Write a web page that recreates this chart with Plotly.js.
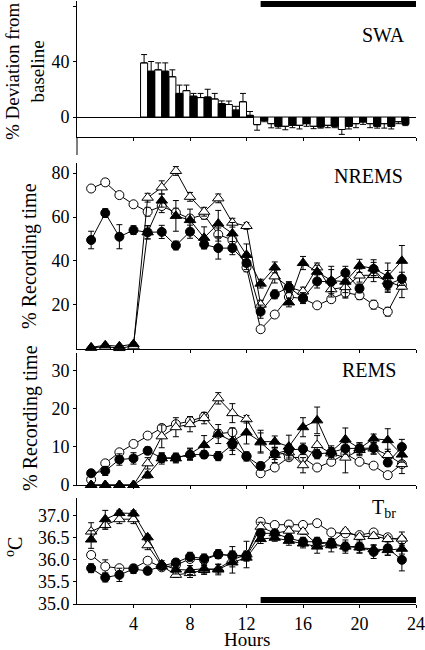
<!DOCTYPE html>
<html><head><meta charset="utf-8">
<script src="https://cdn.plot.ly/plotly-3.0.1.min.js"></script>
<style>html,body{margin:0;padding:0;background:#fff}#g{width:425px;height:650px}</style>
</head><body><div id="g"></div>
<script>
// ---------- data ----------
const hours = [1,2,3,4,5,6,7,8,9,10,11,12,13,14,15,16,17,18,19,20,21,22,23];
const swaHours = [5,6,7,8,9,10,11,12,13,14,15,16,17,18,19,20,21,22,23];
const swaWhite    = [39,34,29,19,14,13,9,11,-5.5,-4.8,-6.7,-6,-6.7,-6,-9,-4.8,-4.8,-4.8,-3.4];
const swaWhiteErr = [6,5,5,4,3,4,2.5,6,4,3,2.5,2.6,1.7,1.7,3.5,2.9,2.9,3.2,1.4];
const swaBlack    = [33,33,17,15,14.4,9.6,5,1.2,-2.4,-6.7,-6,-4.8,-7.2,-6.7,-6.7,-3.6,-6.7,-6.7,-5.3];
const swaBlackErr = [7,6,6,2,5.6,2,2.7,2.8,1,1.3,1.7,1.9,0.8,1,1.9,1.7,1.3,1.9,0.9];

const nremsOpenCirc = [73,75.8,70,65.8,62.4,65,62,59.3,61,52,49.5,37,8.8,15.5,23.5,22.8,19.7,22.5,25.5,24.3,20,16.8,29];
const nremsOpenCircErr = [1,1.5,1,1,2,3,2,1.5,2,3,3,2,1,1,1.5,1.5,1,1,2,2,2,2,2];
const nremsFillCirc = [49.5,61.8,51,54,53,53.2,47,53.3,47.5,45.8,45.8,39,16.8,24.7,28,23,30.6,30.5,34.5,27.4,36.3,29.2,31.8];
const nremsFillCircErr = [4,2,5.5,2,3,3,2,3,2,5,3,3,3,2,2.5,2.5,3,7,3,2,3,3,3];
const nremsFillTri = [0.5,1.5,1,2,53,67.5,60.5,58.6,50.5,57,52.5,42.7,29.6,37,21,39,35,31,30.5,37.7,36.5,33,40];
const nremsFillTriErr = [0.5,0.5,0.5,0.5,3,3,7,5,5,6,5,5,2,2.5,2,3,3,5,5,3,4,6,7];
const nremsOpenTri = [0.3,0.8,0.2,1,68.8,73.5,81,69.2,62.4,68.5,57.4,55.9,20,32.9,28,26,37,27,28,33.3,33.5,30.6,28.2];
const nremsOpenTriErr = [0.3,0.3,0.3,0.3,2,3,2,2,2,2,2,1.5,2,3,2,2,2,2,5,3,3,5,5];

const remsOpenCirc = [1.4,5.7,8.6,10.8,13,15,16,16.8,18,13.5,13.9,7.6,3.1,4.6,7.3,7.2,4.6,6.1,8.2,6.1,5.1,2.6,5.5];
const remsOpenCircErr = [0.5,0.6,0.6,0.5,0.5,0.8,0.8,0.8,0.8,1,1,1,0.5,0.5,0.6,0.6,0.5,0.5,0.8,0.6,0.5,0.5,0.8];
const remsFillCirc = [3.1,3.7,6.7,7,9,7.1,7.2,8,8,7.6,10.6,7.5,5,8.2,9.2,9.5,8.1,8.6,9.6,9.6,9.7,5.9,10];
const remsFillCircErr = [0.8,1.2,1.5,1.5,1,1.2,1.2,1.5,1,1.2,1.5,1.2,1,1.5,1.5,1.5,1.2,1.2,1.5,1.5,1.5,1,2];
const remsFillTri = [0,0,0,0,2.6,7,7,8.2,10.5,13.4,11.5,13.8,11.4,11.4,10.1,15.2,17,8.8,12,9.6,12.2,11.8,8];
const remsFillTriErr = [0.2,0.2,0.2,0.2,0.8,1.5,1.2,1.5,2.5,2.5,3.5,3,3,1.5,3,2.5,3.5,1.5,3,1.5,1.2,3,2];
const remsOpenTri = [0,0,0,0,5.7,12.8,15.2,16,17.6,22.8,18.9,17.3,11.2,7.9,8.6,5.2,10.5,8.3,7.2,9.2,9.6,7.9,5.5];
const remsOpenTriErr = [0.2,0.2,0.2,0.2,1.5,3,2.5,2,1.5,1.5,2.5,1,2.5,2,2,2,2.5,1.5,4,1.5,1.5,1.5,2.5];

const tbrOpenCirc = [36.11,35.85,35.81,35.81,35.98,35.83,35.88,36.02,36.0,36.12,36.1,36.1,36.86,36.79,36.8,36.79,36.83,36.62,36.6,36.56,36.62,36.51,36.45];
const tbrOpenCircErr = [0.08,0.15,0.05,0.06,0.07,0.05,0.05,0.06,0.06,0.08,0.1,0.1,0.05,0.05,0.08,0.06,0.05,0.05,0.05,0.05,0.05,0.05,0.08];
const tbrFillCirc = [35.81,35.6,35.66,35.79,35.75,35.86,35.94,36.07,36.03,36.13,36.09,36.09,36.6,36.6,36.49,36.41,36.41,36.37,36.3,36.3,36.18,36.26,36.0];
const tbrFillCircErr = [0.1,0.1,0.15,0.1,0.08,0.06,0.08,0.1,0.1,0.1,0.1,0.1,0.1,0.08,0.1,0.1,0.1,0.1,0.15,0.15,0.15,0.15,0.25];
const tbrFillTri = [36.46,36.92,37.06,37.05,36.51,35.9,35.78,35.77,35.8,35.78,35.94,36.05,36.47,36.5,36.43,36.37,36.3,36.33,36.3,36.28,36.24,36.22,36.25];
const tbrFillTriErr = [0.2,0.2,0.06,0.06,0.05,0.08,0.1,0.1,0.1,0.12,0.1,0.08,0.1,0.08,0.1,0.1,0.15,0.15,0.1,0.12,0.1,0.12,0.12];
const tbrOpenTri = [36.64,36.79,36.92,36.92,36.33,35.86,35.66,35.7,35.77,35.8,36.0,36.12,36.75,36.6,36.66,36.64,36.35,36.4,36.65,36.52,36.54,36.47,36.48];
const tbrOpenTriErr = [0.2,0.1,0.1,0.1,0.1,0.06,0.06,0.1,0.1,0.1,0.3,0.3,0.1,0.06,0.1,0.06,0.06,0.08,0.05,0.06,0.06,0.06,0.15];

const darkPeriod = [13, 24];
const xTicks = [4,8,12,16,20,24];

// ---------- build ----------
const FONT = 'Liberation Serif, Times New Roman, serif';
const BLK = '#000';

function errCfg(arr){ return {type:'data', array:arr, visible:true, color:BLK, thickness:1, width:3}; }
function series(y, err, sym, fill, xa, ya){
  return {
    x: hours, y: y, xaxis: xa, yaxis: ya, type:'scatter', mode:'lines+markers',
    line:{color:BLK, width:1}, cliponaxis:false,
    marker:{symbol:sym, size: sym==='circle'?9:10, color: fill?BLK:'#fff', line:{color:BLK, width:1}},
    error_y: errCfg(err), showlegend:false, hoverinfo:'skip'
  };
}
function barErr(vals, errs){
  return {type:'data', symmetric:false, visible:true, color:BLK, thickness:1, width:3,
    array: vals.map((v,i)=> v>=0 ? errs[i] : 0),
    arrayminus: vals.map((v,i)=> v<0 ? errs[i] : 0)};
}

const traces = [
  {type:'bar', x:swaHours, y:swaWhite, xaxis:'x', yaxis:'y', marker:{color:'#fff', line:{color:BLK, width:1}},
   error_y: barErr(swaWhite, swaWhiteErr), showlegend:false, hoverinfo:'skip'},
  {type:'bar', x:swaHours, y:swaBlack, xaxis:'x', yaxis:'y', marker:{color:BLK, line:{color:BLK, width:1}},
   error_y: barErr(swaBlack, swaBlackErr), showlegend:false, hoverinfo:'skip'},

  series(nremsOpenCirc, nremsOpenCircErr, 'circle', false, 'x2','y2'),
  series(nremsOpenTri, nremsOpenTriErr, 'triangle-up', false, 'x2','y2'),
  series(nremsFillTri, nremsFillTriErr, 'triangle-up', true, 'x2','y2'),
  series(nremsFillCirc, nremsFillCircErr, 'circle', true, 'x2','y2'),

  series(remsOpenCirc, remsOpenCircErr, 'circle', false, 'x3','y3'),
  series(remsOpenTri, remsOpenTriErr, 'triangle-up', false, 'x3','y3'),
  series(remsFillTri, remsFillTriErr, 'triangle-up', true, 'x3','y3'),
  series(remsFillCirc, remsFillCircErr, 'circle', true, 'x3','y3'),

  series(tbrOpenCirc, tbrOpenCircErr, 'circle', false, 'x4','y4'),
  series(tbrOpenTri, tbrOpenTriErr, 'triangle-up', false, 'x4','y4'),
  series(tbrFillTri, tbrFillTriErr, 'triangle-up', true, 'x4','y4'),
  series(tbrFillCirc, tbrFillCircErr, 'circle', true, 'x4','y4'),

  // dark-period bars
  {type:'scatter', mode:'lines', x:darkPeriod, y:[81.4,81.4], xaxis:'x', yaxis:'y', cliponaxis:false,
   line:{color:BLK, width:6}, showlegend:false, hoverinfo:'skip'},
  {type:'scatter', mode:'lines', x:darkPeriod, y:[35.09,35.09], xaxis:'x4', yaxis:'y4', cliponaxis:false,
   line:{color:BLK, width:6}, showlegend:false, hoverinfo:'skip'}
];

function xax(anchor, labels){
  return {domain:[0,1], range:[0,24], anchor:anchor, tickvals:xTicks, showticklabels:labels,
    ticks:'outside', ticklen:3, tickcolor:BLK, showline:true, linecolor:BLK, linewidth:1,
    showgrid:false, zeroline:false, tickfont:{family:FONT, size:18, color:BLK}};
}
function yax(dom, rng, tv, extra){
  return Object.assign({domain:dom, range:rng, tickvals:tv, ticks:'outside', ticklen:3, tickcolor:BLK,
    showline:true, linecolor:BLK, linewidth:1, showgrid:false, zeroline:false,
    tickfont:{family:FONT, size:18, color:BLK}, anchor:'x'}, extra||{});
}

const W = 339, L = 77, T = 1, PH = 603;
const px = v => (v - L)/W;
const py = v => (604 - v)/PH;

function ann(text, x, y, opts){
  return Object.assign({text:text, x:x, y:y, xref:'paper', yref:'paper', showarrow:false,
    font:{family:FONT, size:20, color:BLK}, xanchor:'center', yanchor:'middle'}, opts||{});
}

const layout = {
  width:425, height:650, margin:{l:L, r:425-L-W, t:T, b:46},
  paper_bgcolor:'#fff', plot_bgcolor:'rgba(0,0,0,0)',
  barmode:'group', bargap:0, bargroupgap:0, showlegend:false,
  font:{family:FONT, color:BLK},
  xaxis: xax('y', false),
  xaxis2: Object.assign(xax('y2', false), {matches:'x'}),
  xaxis3: Object.assign(xax('y3', false), {matches:'x'}),
  xaxis4: Object.assign(xax('y4', true), {matches:'x'}),
  yaxis: yax([py(137), 1], [-14.4, 83.6], [0,40,80], {zeroline:true, zerolinecolor:BLK, zerolinewidth:1, anchor:'x'}),
  yaxis2: yax([py(348.5), py(163.3)], [0, 84.5], [20,40,60,80], {anchor:'x2'}),
  yaxis3: yax([py(485), py(352.7)], [0, 34.8], [0,10,20,30], {anchor:'x3'}),
  yaxis4: yax([0, py(498)], [35, 37.4], [35,35.5,36,36.5,37], {anchor:'x4', tickformat:'.1f'}),
  shapes:[
    {type:'line', xref:'paper', yref:'paper', x0:0, x1:0, y0:py(137), y1:py(155), line:{color:BLK, width:1}}
  ],
  annotations:[
    ann('% Deviation from<br>baseline', px(25), py(72), {textangle:-90, font:{family:FONT, size:19, color:BLK}}),
    ann('% Recording time', px(30), py(256), {textangle:-90}),
    ann('% Recording time', px(30), py(418), {textangle:-90}),
    ann('<sup>o</sup>C', px(14), py(547), {textangle:-90}),
    ann('SWA', px(407), py(35), {xanchor:'right'}),
    ann('NREMS', px(405), py(176), {xanchor:'right'}),
    ann('REMS', px(398), py(370), {xanchor:'right'}),
    ann('T<sub>br</sub>', px(398), py(508), {xanchor:'right'}),
    ann('Hours', px(246.5), py(639), {font:{family:FONT, size:19, color:BLK}})
  ]
};

Plotly.newPlot('g', traces, layout, {staticPlot:true, displayModeBar:false});
</script></body></html>
